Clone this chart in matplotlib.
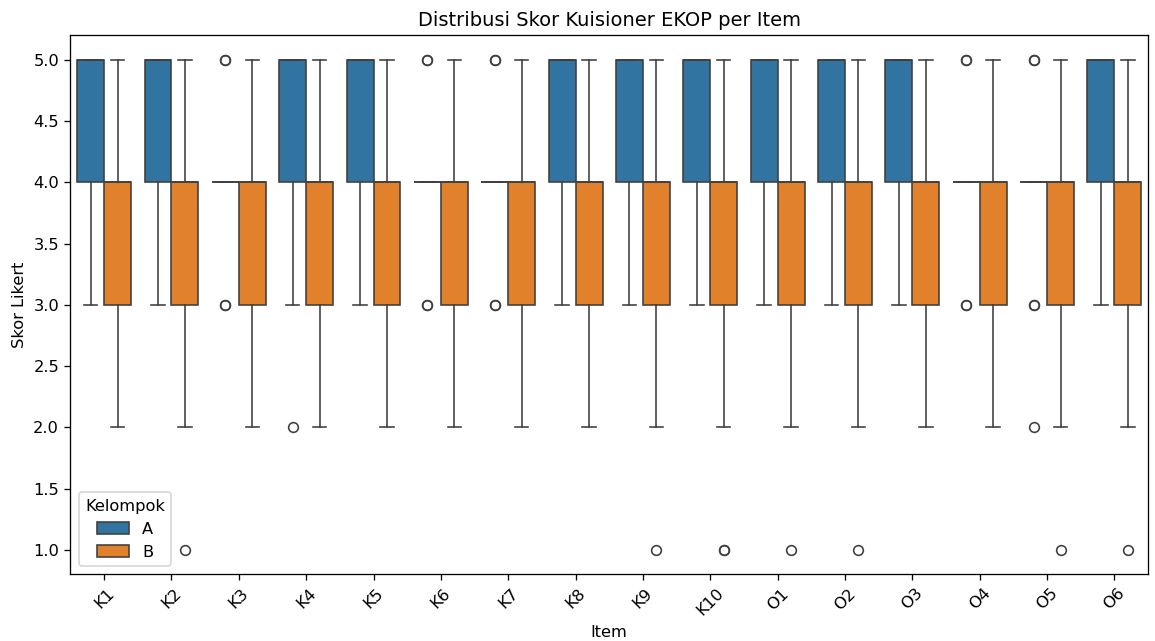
import matplotlib
matplotlib.use("Agg")
import matplotlib.pyplot as plt
from matplotlib.patches import Patch
import numpy as np

items = ["K1", "K2", "K3", "K4", "K5", "K6", "K7", "K8", "K9", "K10",
         "O1", "O2", "O3", "O4", "O5", "O6"]
groups = ["A", "B"]

# Group A box statistics per item
a_q1 = [4, 4, 4, 4, 4, 4, 4, 4, 4, 4, 4, 4, 4, 4, 4, 4]
a_med = [5, 5, 4, 5, 5, 4, 4, 5, 5, 5, 5, 5, 5, 4, 4, 5]
a_q3 = [5, 5, 4, 5, 5, 4, 4, 5, 5, 5, 5, 5, 5, 4, 4, 5]
a_lo = [3, 3, 4, 3, 3, 4, 4, 3, 3, 3, 3, 3, 3, 4, 4, 3]
a_hi = [5, 5, 4, 5, 5, 4, 4, 5, 5, 5, 5, 5, 5, 4, 4, 5]
a_fliers = [[], [], [5, 5, 3, 3], [2], [], [5, 5, 3, 3], [5, 5, 3, 3], [], [], [],
            [], [], [], [5, 5, 3, 3], [5, 5, 3, 3, 2], []]

# Group B box statistics per item
b_q1 = [3] * 16
b_med = [4] * 16
b_q3 = [4] * 16
b_lo = [2] * 16
b_hi = [5] * 16
b_fliers = [[], [1], [], [], [], [], [], [], [1], [1, 1],
            [1], [1], [], [], [1], [1]]

colors = {"A": "#3274a1", "B": "#e1812c"}
line_color = "#3f3f3f"
lw = 1.0

def make_stats(q1, med, q3, lo, hi, fl):
    return [dict(q1=a, med=m, q3=b, whislo=l, whishi=h, fliers=f)
            for a, m, b, l, h, f in zip(q1, med, q3, lo, hi, fl)]

DPI = 116.667
fig, ax = plt.subplots(figsize=(1155 / DPI, 641 / DPI), dpi=DPI)
fig.subplots_adjust(left=0.061, right=0.994, top=0.945, bottom=0.104)

x = np.arange(len(items))
w = 0.4
for g, off, st in [("A", -0.2, make_stats(a_q1, a_med, a_q3, a_lo, a_hi, a_fliers)),
                   ("B", 0.2, make_stats(b_q1, b_med, b_q3, b_lo, b_hi, b_fliers))]:
    ax.bxp(st, positions=x + off, widths=w, patch_artist=True, manage_ticks=False,
           boxprops=dict(facecolor=colors[g], edgecolor=line_color, linewidth=lw),
           whiskerprops=dict(color=line_color, linewidth=lw),
           capprops=dict(color=line_color, linewidth=lw),
           medianprops=dict(color=line_color, linewidth=lw),
           flierprops=dict(marker="o", markersize=6, markerfacecolor="none",
                           markeredgecolor=line_color, markeredgewidth=lw))

ax.set_xlim(-0.5, len(items) - 0.5)
ax.set_ylim(0.8, 5.2)
ax.set_xticks(x)
ax.set_xticklabels(items, rotation=45)
ax.set_yticks([1.0, 1.5, 2.0, 2.5, 3.0, 3.5, 4.0, 4.5, 5.0])
ax.set_title("Distribusi Skor Kuisioner EKOP per Item")
ax.set_xlabel("Item")
ax.set_ylabel("Skor Likert")

handles = [Patch(facecolor=colors[g], edgecolor=line_color, linewidth=lw, label=g) for g in groups]
ax.legend(handles=handles, title="Kelompok", loc="lower left")

fig.savefig("out.png", dpi=DPI)
